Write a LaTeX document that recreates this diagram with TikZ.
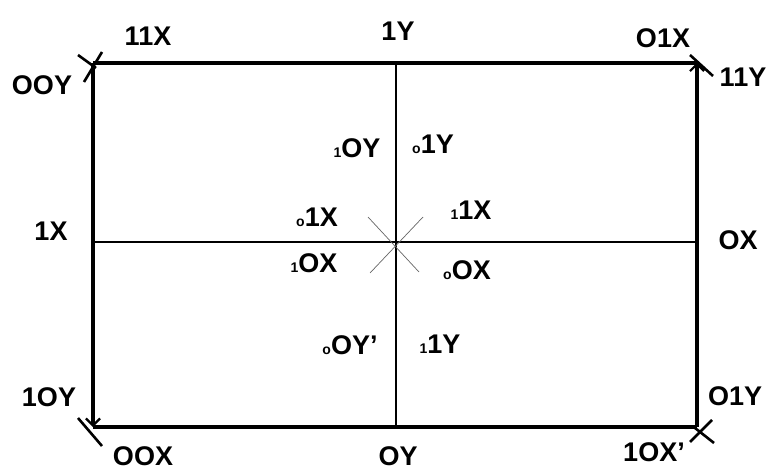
\documentclass[tikz,border=0pt]{standalone}
\usepackage{fontspec}
\setmainfont{Liberation Sans}
\usetikzlibrary{arrows.meta}
\newcommand{\smalldigit}[1]{{\fontsize{14}{14}\selectfont #1}}
\begin{document}
\begin{tikzpicture}[x=1pt, y=-1pt, >={Straight Barb[length=7pt,width=14pt,line width=2.2pt]},
  every node/.style={font=\fontsize{27}{27}\selectfont\bfseries, inner sep=1pt},
  frame/.style={line width=4pt},
  axis/.style={line width=1.1pt},
  cornermark/.style={line width=2.6pt},
  diag/.style={line width=0.7pt, black!60}]
  \useasboundingbox (0,0) rectangle (775,471);
  % corners and axis ends
  \coordinate (tl) at (93,62.5);
  \coordinate (tr) at (697,62.5);
  \coordinate (bl) at (93,427);
  \coordinate (br) at (697,427);
  \coordinate (tm) at (396,62.5);
  \coordinate (bm) at (396,427);
  \coordinate (lm) at (93,242);
  \coordinate (rm) at (697,242);
  % frame
  \draw[frame] (tl) -- (tr);
  \draw[frame] (bl) -- (br);
  \draw[frame, ->] (tl) -- (bl);
  \draw[frame, ->] (br) -- (tr);
  % axes
  \draw[axis] (tm) -- (bm);
  \draw[axis] (lm) -- (rm);
  \draw[diag] (368,217) -- (419,272);
  \draw[diag] (423,217) -- (370,273);
  % corner marks
  \draw[cornermark] (78,55) -- (96,68);
  \draw[cornermark] (102,52) -- (84,82);
  \draw[cornermark] (690,55) -- (713,76);
  \draw[cornermark] (78,418) -- (102,446);
  \draw[cornermark] (690,442) -- (712,420);
  \draw[cornermark] (695,428) -- (714,443);
  % outer labels
  \node (l11x) at (148,36) {11X};
  \node (l1y) at (398,31) {1Y};
  \node (lo1x) at (663,38) {O1X};
  \node (looy) at (42,85) {OOY};
  \node (l11y) at (743,77) {11Y};
  \node (l1x) at (51,231) {1X};
  \node (lox) at (738,240) {OX};
  \node (l1oy) at (49,397) {1OY};
  \node (lo1y) at (735,396) {O1Y};
  \node (loox) at (143,456) {OOX};
  \node (loy) at (398,456) {OY};
  \node (l1oxb) at (654,452) {1OX'};
  % inner labels
  \node (i1oy) at (357,148) {\smalldigit{1}OY};
  \node (io1y) at (433,144) {\smalldigit{o}1Y};
  \node (io1x) at (317,217) {\smalldigit{o}1X};
  \node (i11x) at (471,210) {\smalldigit{1}1X};
  \node (i1ox) at (314,263) {\smalldigit{1}OX};
  \node (ioox) at (467,270) {\smalldigit{o}OX};
  \node (iooy) at (350,345) {\smalldigit{o}OY'};
  \node (i11y) at (440,344) {\smalldigit{1}1Y};
\end{tikzpicture}
\end{document}
